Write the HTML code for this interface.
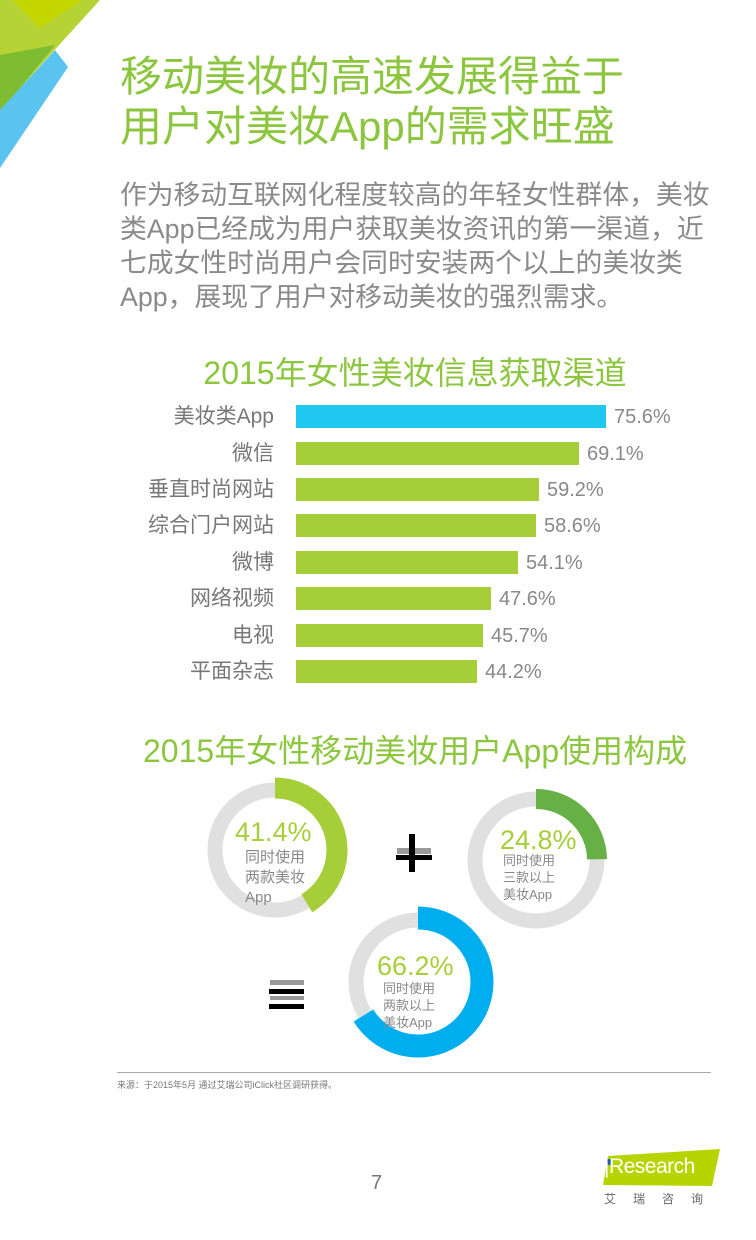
<!DOCTYPE html>
<html style="overflow:hidden"><head><meta charset="utf-8"><style>
*{margin:0;padding:0}
html,body{width:756px;height:1240px;overflow:hidden}
body{position:relative;background:#fff;font-family:"Liberation Sans","Noto Sans CJK SC",sans-serif}
.a{position:absolute;white-space:nowrap}
.t{left:120px;color:#8cc63f;font-size:42px;line-height:50px}
.p{left:120px;color:#8a8a8a;font-size:26.8px;line-height:34px;top:178px}
.h{color:#8cc63f;font-size:32px}
.lab{right:482px;color:#777;font-size:21px;line-height:24px;text-align:right}
.val{color:#888;font-size:20px;line-height:24px}
.bar{left:296px;height:23px;background:#a6ce39}
</style></head><body>
<svg class="a" style="left:0;top:0" width="120" height="180">
<polygon points="0,0 100,0 0,110" fill="#b5d334"/>
<polygon points="12,0 82,0 40,28" fill="#c4d600"/>
<polygon points="0,55 55,45 0,113" fill="#7ebc31"/>
<polygon points="0,110 55,50 68,67 0,168" fill="#5bc3f0"/>
</svg>
<div class="a t" style="top:52px">移动美妆的高速发展得益于<br>用户对美妆App的需求旺盛</div>
<div class="a p">作为移动互联网化程度较高的年轻女性群体，美妆<br>类App已经成为用户获取美妆资讯的第一渠道，近<br>七成女性时尚用户会同时安装两个以上的美妆类<br>App，展现了用户对移动美妆的强烈需求。</div>
<div class="a h" style="left:0;width:830px;text-align:center;top:348px">2015年女性美妆信息获取渠道</div>

<div class="a lab" style="top:405px">美妆类App</div><div class="a bar" style="top:405px;width:310px;background:#1ec8f0"></div><div class="a val" style="left:614px;top:405px">75.6%</div>
<div class="a lab" style="top:442px">微信</div><div class="a bar" style="top:442px;width:283px"></div><div class="a val" style="left:587px;top:442px">69.1%</div>
<div class="a lab" style="top:478px">垂直时尚网站</div><div class="a bar" style="top:478px;width:243px"></div><div class="a val" style="left:547px;top:478px">59.2%</div>
<div class="a lab" style="top:514px">综合门户网站</div><div class="a bar" style="top:514px;width:240px"></div><div class="a val" style="left:544px;top:514px">58.6%</div>
<div class="a lab" style="top:551px">微博</div><div class="a bar" style="top:551px;width:222px"></div><div class="a val" style="left:526px;top:551px">54.1%</div>
<div class="a lab" style="top:587px">网络视频</div><div class="a bar" style="top:587px;width:195px"></div><div class="a val" style="left:499px;top:587px">47.6%</div>
<div class="a lab" style="top:624px">电视</div><div class="a bar" style="top:624px;width:187px"></div><div class="a val" style="left:491px;top:624px">45.7%</div>
<div class="a lab" style="top:660px">平面杂志</div><div class="a bar" style="top:660px;width:181px"></div><div class="a val" style="left:485px;top:660px">44.2%</div>

<div class="a h" style="left:143px;top:726px">2015年女性移动美妆用户App使用构成</div>

<svg class="a" style="left:0;top:760px" width="756" height="310">
<circle cx="275" cy="90" r="60" fill="none" stroke="#e0e0e0" stroke-width="15"/>
<circle cx="275" cy="90" r="62" fill="none" stroke="#a6ce39" stroke-width="21" stroke-dasharray="161.3 500" transform="rotate(-90 275 90)"/>
<circle cx="536" cy="100" r="61" fill="none" stroke="#e0e0e0" stroke-width="15"/>
<circle cx="536" cy="100" r="61" fill="none" stroke="#66b046" stroke-width="20" stroke-dasharray="95 500" transform="rotate(-90 536 100)"/>
<circle cx="418" cy="222" r="62" fill="none" stroke="#e0e0e0" stroke-width="15"/>
<circle cx="418" cy="222" r="64" fill="none" stroke="#00aeef" stroke-width="23" stroke-dasharray="266.2 500" transform="rotate(-90 418 222)"/>
<rect x="397" y="88" width="34" height="6" fill="#999"/>
<rect x="409" y="74" width="6" height="38" fill="#000"/>
<rect x="396" y="95" width="36" height="5" fill="#000"/>
<rect x="270" y="220" width="34" height="5" fill="#999"/>
<rect x="269" y="229" width="35" height="5" fill="#000"/>
<rect x="270" y="236" width="34" height="4" fill="#999"/>
<rect x="269" y="244" width="35" height="5" fill="#000"/>
</svg>
<div class="a" style="left:235px;top:817px;color:#a6ce39;font-size:27px">41.4%</div>
<div class="a" style="left:245px;top:848px;color:#888;font-size:15px;line-height:20px">同时使用<br>两款美妆<br>App</div>
<div class="a" style="left:500px;top:825px;color:#a6ce39;font-size:27px">24.8%</div>
<div class="a" style="left:503px;top:852px;color:#888;font-size:13px;line-height:17px">同时使用<br>三款以上<br>美妆App</div>
<div class="a" style="left:377px;top:951px;color:#a6ce39;font-size:27px">66.2%</div>
<div class="a" style="left:383px;top:980px;color:#888;font-size:13px;line-height:17px">同时使用<br>两款以上<br>美妆App</div>

<div class="a" style="left:117px;top:1072px;width:594px;height:1px;background:#aaa"></div>
<div class="a" style="left:117px;top:1078px;color:#777;font-size:9px">来源：于2015年5月 通过艾瑞公司iClick社区调研获得。</div>
<div class="a" style="left:371px;top:1172px;color:#777;font-size:20px">7</div>
<svg class="a" style="left:600px;top:1148px" width="130" height="40">
<polygon points="8,8 120,1 112,38 3,37" fill="#b5d400"/>
<circle cx="9" cy="14" r="3" fill="#1b5fad"/>
</svg>
<div class="a" style="left:604px;top:1155px;color:#fff;font-size:21px;letter-spacing:-0.5px">|Research</div>
<div class="a" style="left:604px;top:1190px;color:#666;font-size:12px;letter-spacing:17px">艾瑞咨询</div>
</body></html>
